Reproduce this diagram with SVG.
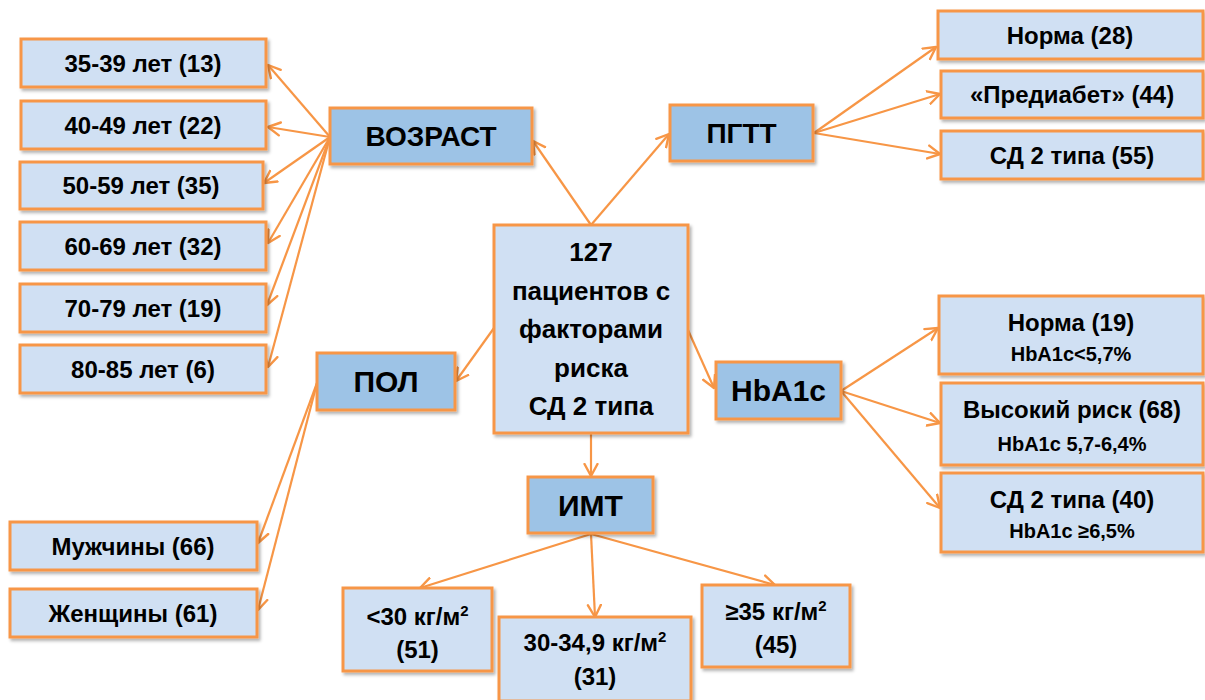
<svg xmlns="http://www.w3.org/2000/svg" width="1205" height="700" viewBox="0 0 1205 700">
<defs>
<style>
.box{fill:#D0E0F3;stroke:#F79646;stroke-width:3;filter:url(#sh)}
.hdr{fill:#9DC3E6;stroke:#F79646;stroke-width:3;filter:url(#sh)}
text{font-family:"Liberation Sans",Arial,sans-serif;font-weight:bold;fill:#000;text-anchor:middle}
.t{font-size:24px}
.s{font-size:20px}
.h{font-size:28px}
.h2{font-size:30px}
.c{font-size:26px}
.con line{stroke:#F79646;stroke-width:2.2;fill:none;marker-end:url(#ah)}
</style>
<filter id="sh" x="-10%" y="-10%" width="125%" height="130%">
<feDropShadow dx="2" dy="2.5" stdDeviation="1.5" flood-color="#000" flood-opacity="0.3"/>
</filter>
<marker id="ah" markerUnits="userSpaceOnUse" markerWidth="16" markerHeight="16" viewBox="0 0 16 16" refX="13" refY="8" orient="auto">
<path d="M1,1.5 L13,8 L1,14.5" fill="none" stroke="#F79646" stroke-width="2.4" stroke-linecap="round" stroke-linejoin="round"/>
</marker>
</defs>
<rect width="1205" height="700" fill="#fff"/>

<g class="con">
<line x1="591" y1="225" x2="533" y2="141"/>
<line x1="591" y1="225" x2="669" y2="134"/>
<line x1="330" y1="137" x2="268" y2="65"/>
<line x1="330" y1="137" x2="268" y2="127"/>
<line x1="330" y1="137" x2="264" y2="183"/>
<line x1="330" y1="137" x2="268" y2="243"/>
<line x1="330" y1="137" x2="267" y2="305"/>
<line x1="330" y1="137" x2="268" y2="367"/>
<line x1="494" y1="328" x2="456" y2="381"/>
<line x1="317" y1="383" x2="258" y2="543"/>
<line x1="317" y1="383" x2="258" y2="610"/>
<line x1="591" y1="433" x2="591" y2="476"/>
<line x1="591" y1="534" x2="420" y2="588"/>
<line x1="591" y1="534" x2="595" y2="617"/>
<line x1="591" y1="534" x2="775" y2="585"/>
<line x1="688" y1="330" x2="714" y2="388"/>
<line x1="814" y1="133" x2="936" y2="47"/>
<line x1="814" y1="133" x2="940" y2="94"/>
<line x1="814" y1="133" x2="940" y2="154"/>
<line x1="841" y1="391" x2="938" y2="328"/>
<line x1="841" y1="391" x2="940" y2="423"/>
<line x1="841" y1="391" x2="940" y2="508"/>
</g>

<g id="center"><rect class="box" x="494" y="225" width="194" height="208"/>
<text class="c" x="591" y="261">127</text>
<text class="c" x="591" y="300">пациентов с</text>
<text class="c" x="591" y="338">факторами</text>
<text class="c" x="591" y="377">риска</text>
<text class="c" x="591" y="415">СД 2 типа</text></g>

<g id="vozrast"><rect class="hdr" x="330" y="108" width="202" height="56"/><text class="h" x="431" y="146">ВОЗРАСТ</text></g>
<g id="pgtt"><rect class="hdr" x="670" y="105" width="143" height="56"/><text class="h" x="741.5" y="143">ПГТТ</text></g>
<g id="pol"><rect class="hdr" x="317" y="353" width="138" height="57"/><text class="h2" x="386" y="392">ПОЛ</text></g>
<g id="hba1c"><rect class="hdr" x="716" y="362" width="125" height="57"/><text class="h2" x="778.5" y="401">HbA1c</text></g>
<g id="imt"><rect class="hdr" x="528" y="477" width="125" height="56"/><text class="h2" x="590.5" y="516">ИМТ</text></g>

<g id="age1"><rect class="box" x="21" y="39" width="245" height="48"/><text class="t" x="143" y="72">35-39 лет (13)</text></g>
<g id="age2"><rect class="box" x="21" y="101" width="245" height="48"/><text class="t" x="143" y="134">40-49 лет (22)</text></g>
<g id="age3"><rect class="box" x="20" y="162" width="243" height="47"/><text class="t" x="141" y="194">50-59 лет (35)</text></g>
<g id="age4"><rect class="box" x="20" y="222" width="246" height="48"/><text class="t" x="143" y="255">60-69 лет (32)</text></g>
<g id="age5"><rect class="box" x="20" y="284" width="246" height="48"/><text class="t" x="143" y="317">70-79 лет (19)</text></g>
<g id="age6"><rect class="box" x="20" y="345" width="246" height="48"/><text class="t" x="143" y="378">80-85 лет (6)</text></g>

<g id="male"><rect class="box" x="10" y="522" width="247" height="48"/><text class="t" x="133" y="555">Мужчины (66)</text></g>
<g id="female"><rect class="box" x="10" y="589" width="247" height="48"/><text class="t" x="133" y="622">Женщины (61)</text></g>

<g id="pg1"><rect class="box" x="938" y="11" width="265" height="48"/><text class="t" x="1070" y="44">Норма (28)</text></g>
<g id="pg2"><rect class="box" x="941" y="71" width="262" height="47"/><text class="t" x="1072" y="103">«Предиабет» (44)</text></g>
<g id="pg3"><rect class="box" x="941" y="131" width="262" height="48"/><text class="t" x="1072" y="164">СД 2 типа (55)</text></g>

<g id="hb1"><rect class="box" x="939" y="296" width="264" height="78"/><text class="t" x="1071" y="331">Норма (19)</text><text class="s" x="1071" y="361">HbA1c&lt;5,7%</text></g>
<g id="hb2"><rect class="box" x="941" y="383" width="262" height="82"/><text class="t" x="1072" y="418">Высокий риск (68)</text><text class="s" x="1072" y="451">HbA1c 5,7-6,4%</text></g>
<g id="hb3"><rect class="box" x="941" y="473" width="262" height="79"/><text class="t" x="1072" y="508">СД 2 типа (40)</text><text class="s" x="1072" y="538">HbA1c ≥6,5%</text></g>

<g id="bmi1"><rect class="box" x="343" y="588" width="149" height="83"/><text class="t" x="417.5" y="625">&lt;30 кг/м<tspan font-size="15" dy="-9">2</tspan></text><text class="t" x="417.5" y="658">(51)</text></g>
<g id="bmi2"><rect class="box" x="499" y="617" width="192" height="84"/><text class="t" x="595" y="651">30-34,9 кг/м<tspan font-size="15" dy="-9">2</tspan></text><text class="t" x="595" y="685">(31)</text></g>
<g id="bmi3"><rect class="box" x="702" y="585" width="148" height="82"/><text class="t" x="776" y="620">≥35 кг/м<tspan font-size="15" dy="-9">2</tspan></text><text class="t" x="776" y="653">(45)</text></g>
</svg>
